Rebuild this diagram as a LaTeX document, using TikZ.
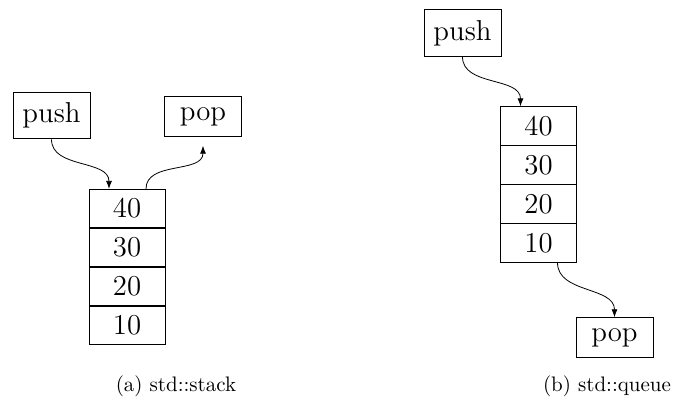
\documentclass[tikz,border=0pt]{standalone}
\usetikzlibrary{arrows.meta}
\tikzset{
  opbox/.style={draw, font=\Large, minimum width=38.5pt, inner ysep=5.3pt},
  cell/.style={draw, font=\Large, minimum width=38pt, minimum height=19.2pt, inner sep=0pt},
  flow/.style={-{Latex[length=4pt,width=3pt]}},
  caption/.style={font=\fontsize{10.5}{12}\selectfont}
}
\begin{document}
\begin{tikzpicture}[x=0.5pt, y=-0.5pt]
  \useasboundingbox (0,0) rectangle (696,399);

  % --- std::stack ---
  \node[opbox] (spush) at (51.5,115.5) {push};
  \node[opbox] (spop)  at (203,116.5) {pop};
  \node[cell] (s40) at (127,208.5) {40};
  \node[cell] (s30) at (127,247.5) {30};
  \node[cell] (s20) at (127,286.5) {20};
  \node[cell] (s10) at (127,325.5) {10};
  \coordinate (sIn)    at ([xshift=-9pt]s40.north);
  \coordinate (sFrom)  at ([xshift=9.5pt]s40.north);
  \coordinate (sOut)   at ([yshift=-4.5pt]spop.south);
  \draw[flow] (spush.south) to[out=-90,in=90] (sIn);
  \draw[flow] (sFrom) to[out=90,in=-90] (sOut);
  \node[caption] (capa) at (176,386) {(a) std::stack};

  % --- std::queue ---
  \node[opbox] (qpush) at (462.5,33) {push};
  \node[cell] (q40) at (538.5,126) {40};
  \node[cell] (q30) at (538.5,165) {30};
  \node[cell] (q20) at (538.5,204) {20};
  \node[cell] (q10) at (538.5,243) {10};
  \node[opbox] (qpop) at (614.5,337.5) {pop};
  \coordinate (qIn)   at ([xshift=-9pt]q40.north);
  \coordinate (qFrom) at ([xshift=9.5pt]q10.south);
  \draw[flow] (qpush.south) to[out=-90,in=90] (qIn);
  \draw[flow] (qFrom) to[out=-90,in=90] (qpop.north);
  \node[caption] (capb) at (607,386) {(b) std::queue};
\end{tikzpicture}
\end{document}
